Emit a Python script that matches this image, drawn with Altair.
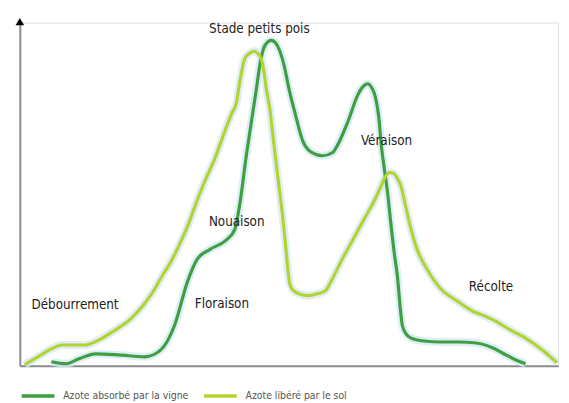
import altair as alt
import pandas as pd

FONT = "Liberation Sans Narrow, DejaVu Sans Condensed, Arial Narrow, sans-serif"

series_names = ["Azote absorbé par la vigne", "Azote libéré par le sol"]
series_colors = ["#3f9f3f", "#b6d22c"]

absorbed_x = [32, 47, 60, 77, 100, 127, 143, 157, 170, 180, 193, 210, 218, 223, 230, 235, 240,
              244, 247, 251, 255, 259, 263, 268, 273, 280, 287, 295, 307, 317, 323, 333, 343,
              349, 353, 357, 360, 364, 367, 370, 373, 376, 380, 383, 386, 388, 392, 397, 410,
              427, 445, 463, 480, 493, 505, 513]
absorbed_y = [4, 2, 7, 12, 11, 9, 16, 41, 85, 108, 118, 128, 138, 163, 215, 248, 281,
              308, 321, 328, 330, 328, 321, 305, 281, 253, 228, 217, 213, 216, 225, 248, 275,
              284, 286, 282, 275, 253, 221, 198, 176, 148, 113, 91, 58, 41, 32, 28, 25,
              24, 24, 23, 18, 11, 5, 2]

released_x = [5, 20, 32, 43, 55, 67, 80, 95, 113, 125, 137, 145, 153, 162, 170, 180, 188, 197,
              208, 215, 220, 222, 225, 228, 233, 238, 242, 245, 248, 250, 254, 257, 260, 263,
              267, 270, 273, 276, 283, 293, 302, 310, 318, 327, 338, 350, 360, 366, 371, 375,
              379, 383, 387, 390, 395, 403, 413, 427, 443, 460, 470, 483, 498, 513, 530, 545]
released_y = [1, 10, 17, 21, 21, 21, 26, 35, 48, 61, 78, 92, 105, 123, 141, 168, 188, 208,
              238, 256, 268, 281, 298, 311, 317, 319, 316, 311, 296, 281, 258, 231, 206, 181,
              148, 118, 88, 78, 73, 71, 73, 76, 90, 108, 128, 150, 168, 181, 192, 196,
              195, 190, 181, 168, 146, 118, 98, 78, 66, 55, 51, 45, 36, 28, 16, 3]

labels = ["Stade petits pois", "Véraison", "Nouaison", "Débourrement", "Floraison", "Récolte"]
label_x = [243, 372, 220, 56, 205, 478]
label_y = [341, 228, 146, 61, 63, 80]

rows = []
for i, (x, y) in enumerate(zip(absorbed_x, absorbed_y)):
    rows.append({"series": series_names[0], "x": x, "y": y, "idx": i})
for i, (x, y) in enumerate(zip(released_x, released_y)):
    rows.append({"series": series_names[1], "x": x, "y": y, "idx": i})
df = pd.DataFrame(rows)
df_labels = pd.DataFrame({"label": labels, "x": label_x, "y": label_y})

ax = alt.Axis(title=None, labels=False, ticks=False, grid=False,
              domainColor="#8c8c8c", domainWidth=2)
xs = alt.Scale(domain=[0, 546], nice=False, zero=False)
ys = alt.Scale(domain=[0, 348], nice=False, zero=False)

base = alt.Chart(df)
glow = base.mark_line(interpolate="monotone", strokeWidth=8, color="#d6eaf7", opacity=0.8).encode(
    x=alt.X("x:Q", scale=xs, axis=ax),
    y=alt.Y("y:Q", scale=ys, axis=ax),
    detail="series:N",
    order="idx:Q",
)
lines = base.mark_line(interpolate="monotone", strokeWidth=3.2).encode(
    x=alt.X("x:Q", scale=xs, axis=ax),
    y=alt.Y("y:Q", scale=ys, axis=ax),
    color=alt.Color("series:N", scale=alt.Scale(domain=series_names, range=series_colors),
                    legend=alt.Legend(title=None, orient="none", legendX=0, legendY=360,
                                      direction="horizontal", symbolType="stroke",
                                      symbolStrokeWidth=3.5, symbolSize=1100,
                                      labelFontSize=10.5, labelFont=FONT, labelColor="#555555",
                                      labelOffset=7, columnPadding=8, padding=0)),
    order="idx:Q",
)
texts = alt.Chart(df_labels).mark_text(font=FONT, fontSize=13.5, color="#222222").encode(
    x=alt.X("x:Q", scale=xs, axis=ax),
    y=alt.Y("y:Q", scale=ys, axis=ax),
    text="label:N",
)
arrow = alt.Chart(pd.DataFrame({"a": [0]})).mark_point(
    shape="triangle-up", filled=True, color="black", size=75, opacity=1
).encode(x=alt.value(0), y=alt.value(-1))

chart = alt.layer(glow, lines, texts, arrow).properties(
    width=546, height=348,
    autosize=alt.AutoSizeParams(type="none"),
    padding={"left": 12, "top": 12, "right": 3, "bottom": 34},
).configure_view(stroke=None).configure(background="white")

chart.save("out.html", embed_options={"renderer": "svg", "actions": False})
